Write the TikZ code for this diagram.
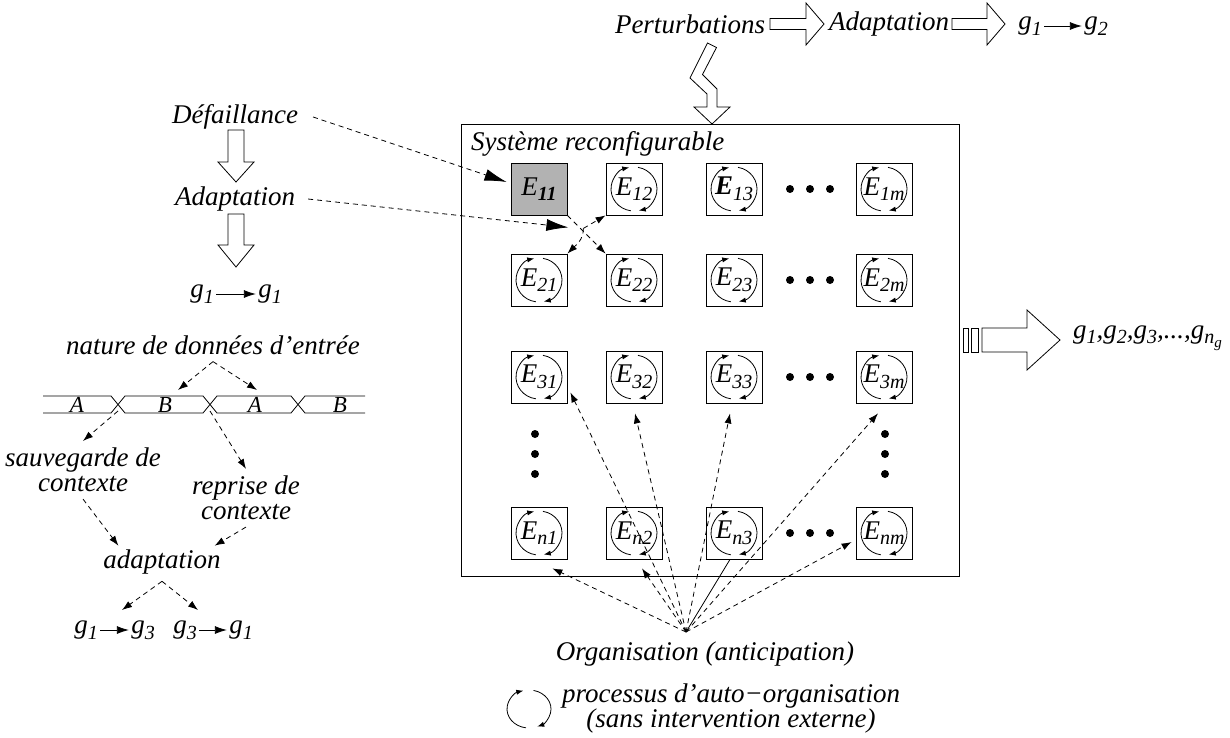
\documentclass[tikz,border=0pt]{standalone}
\usepackage{fontspec}
\setmainfont{Liberation Serif}
\usetikzlibrary{arrows.meta}

\newcommand{\sbs}[1]{\raisebox{-0.45ex}{\fontsize{10}{10}\selectfont #1}}
\newcommand{\ssbs}[1]{\raisebox{-0.35ex}{\fontsize{7.5}{7.5}\selectfont #1}}
\newcommand{\hollowarrow}[6]{% start, angle, length, head length, shaft half, head half
  \draw[fill=white,shift={(#1)},rotate=#2] (0,-#5) -- (#3-#4,-#5) -- (#3-#4,-#6) -- (#3,0) -- (#3-#4,#6) -- (#3-#4,#5) -- (0,#5) -- cycle;}

\tikzset{
  cell/.style={draw, minimum width=28pt, minimum height=26pt, inner sep=0pt},
  lnk/.style={dash pattern=on 2.5pt off 2pt, -{Latex[length=5pt,width=3.5pt]}},
  biglnk/.style={dash pattern=on 2.5pt off 2pt, -{Latex[length=11pt,width=6pt]}},
  solidlnk/.style={-{Latex[length=6pt,width=4pt]}},
  cyc/.style={-{Latex[length=3.5pt,width=2.6pt]}},
  gnode/.style={inner sep=1pt},
  buslbl/.style={font=\itshape\fontsize{11.5}{12}\selectfont},
  twoline/.style={align=center, font=\itshape\fontsize{13.5}{12.5}\selectfont}
}

\begin{document}
\begin{tikzpicture}[x=0.5pt,y=-0.5pt,font=\itshape\fontsize{13.5}{16}\selectfont]
  \fill[white] (0,0) rectangle (1230,738);
  \useasboundingbox (0,0) rectangle (1230,738);

  % perturbations -> adaptation -> g1 -> g2
  \node (pert) at (690,24) {Perturbations};
  \hollowarrow{770,24}{0}{54}{18}{5.5}{21}
  \node (adtop) at (889,24) {Adaptation};
  \hollowarrow{952,24}{0}{53}{18}{5.5}{21}
  \node[gnode] (ga) at (1030,26) {g\sbs{1}};
  \node[gnode] (gb) at (1096,26) {g\sbs{2}};
  \draw[solidlnk] (ga) -- (gb);

  % zigzag arrow into the system
  \draw[fill=white] (707.5,43) -- (716.5,47.5) -- (702.5,74.5) -- (717,89) -- (717,107) -- (730,107)
    -- (712,124) -- (694,107) -- (707,107) -- (707,94) -- (690,78) -- cycle;

  % reconfigurable system
  \draw (461,124) rectangle (959,576);
  \node[anchor=west] (systitle) at (464,144) {Système reconfigurable};

  \node[cell,fill=black!30] (e11) at (539,189) {E\sbs{\textbf{11}}};
  \node[cell] (e12) at (634,189) {E\sbs{12}};
  \node[cell] (e13) at (734,189) {\textbf{E}\sbs{13}};
  \node[cell] (e1m) at (884,189) {E\sbs{1m}};
  \foreach \r/\y in {2/280,3/377,n/533}
    \foreach \c/\x in {1/539,2/634,3/734,m/884}
      \node[cell] (e\r\c) at (\x,\y) {E\sbs{\r\c}};

  \foreach \n in {e12,e13,e1m,e21,e22,e23,e2m,e31,e32,e33,e3m,en1,en2,en3,enm}{
    \draw[cyc] ([shift={(262:11.5pt and 11pt)}]\n.center) arc[start angle=262,end angle=102,x radius=11.5pt,y radius=11pt];
    \draw[cyc] ([shift={(80:11.5pt and 11pt)}]\n.center) arc[start angle=80,end angle=-78,x radius=11.5pt,y radius=11pt];
  }

  \foreach \y in {189,280,377,533}
    \foreach \x in {790,810,830}
      \fill (\x,\y) circle[radius=2pt];
  \foreach \x in {535,885}
    \foreach \y in {434,454,474}
      \fill (\x,\y) circle[radius=2pt];

  % failure
  \node (defa) at (235,117) {Défaillance};
  \hollowarrow{236,130}{-90}{52}{20}{8}{18}
  \node (adleft) at (235,199) {Adaptation};
  \hollowarrow{236,214}{-90}{53}{22}{8}{18}
  \node[gnode] (gc) at (202,294) {g\sbs{1}};
  \node[gnode] (gd) at (270,294) {g\sbs{1}};
  \draw[solidlnk] (gc) -- (gd);

  \draw[biglnk] ([xshift=4pt]defa.east) -- ([shift={(-4,-7)}]e11.west);
  \draw[biglnk] ([xshift=3pt]adleft.east) -- ([shift={(1,12)}]e11.south east);
  \draw[lnk] (e11.south east) -- (e22.north west);
  \coordinate (split) at ([shift={(16,13)}]e11.south east);
  \draw[lnk] (split) -- (e12.south west);
  \draw[lnk] (split) to[out=-90,in=45] (e21.north east);

  % outputs
  \draw (963,328) rectangle (968,352);
  \draw (971,328) rectangle (978,352);
  \hollowarrow{982,340}{0}{78}{33}{12}{30}
  \node[anchor=west] (gall) at (1066,338) {g\sbs{1},g\sbs{2},g\sbs{3},...,g\sbs{n\ssbs{g}}};

  % organisation
  \node (orgtxt) at (705,654) {Organisation (anticipation)};
  \coordinate (org) at (686,632);
  \draw[lnk] (org) -- ([shift={(3,-11)}]e31.south east);
  \draw[lnk] (org) -- ([shift={(1,10)}]e32.south);
  \draw[lnk] (org) -- ([shift={(-4,10)}]e33.south);
  \draw[lnk] (org) -- ([shift={(-6,10)}]e3m.south);
  \draw[lnk] (org) -- ([shift={(-15,9)}]en1.south east);
  \draw[lnk] (org) -- ([shift={(8,9)}]en2.south);
  \draw (org) -- ([shift={(-4,0)}]en3.south);
  \draw[lnk] (org) -- ([shift={(-4,9)}]enm.west);

  % legend
  \coordinate (leg) at (529,709);
  \draw[cyc] ([shift={(262:11pt and 9.5pt)}]leg) arc[start angle=262,end angle=105,x radius=11pt,y radius=9.5pt];
  \draw[cyc] ([shift={(78:11pt and 9.5pt)}]leg) arc[start angle=78,end angle=-68,x radius=11pt,y radius=9.5pt];
  \node[twoline] (proc) at (731,708) {processus d'auto−organisation\\(sans intervention externe)};

  % context switch
  \node (nat) at (213,345) {nature de données d'entrée};
  \draw (43,396) -- (111,396) -- (125,413) -- (203,413) -- (217,396) -- (291,396) -- (305,413) -- (365,413);
  \draw (43,413) -- (111,413) -- (125,396) -- (203,396) -- (217,413) -- (291,413) -- (305,396) -- (365,396);
  \node[buslbl] (la) at (77,405) {A};
  \node[buslbl] (lb) at (165,405) {B};
  \node[buslbl] (lc) at (255,405) {A};
  \node[buslbl] (ld) at (340,405) {B};
  \coordinate (inB) at (178,390);
  \coordinate (inA) at (257,390);
  \coordinate (cx1) at (118,411);
  \coordinate (cx2) at (210,411);
  \draw[lnk] (nat.south) -- (inB);
  \draw[lnk] (nat.south) -- (inA);
  \node[twoline] (sauv) at (83,470) {sauvegarde de\\contexte};
  \node[twoline] (repr) at (246,498) {reprise de\\contexte};
  \draw[lnk] (cx1) -- (sauv.north);
  \draw[lnk] (cx2) -- (repr.north);
  \node (adapt) at (162,562) {adaptation};
  \draw[lnk] (sauv.south) -- ([shift={(22,3)}]adapt.north west);
  \draw[lnk] (repr.south) -- ([shift={(-13,3)}]adapt.north east);
  \coordinate (outl) at (122,610);
  \coordinate (outr) at (198,610);
  \draw[lnk] (adapt.south) -- (outl);
  \draw[lnk] (adapt.south) -- (outr);
  \node[gnode] (g1a) at (86,630) {g\sbs{1}};
  \node[gnode] (g3a) at (143,630) {g\sbs{3}};
  \node[gnode] (g3b) at (185,630) {g\sbs{3}};
  \node[gnode] (g1b) at (241,630) {g\sbs{1}};
  \draw[solidlnk] (g1a) -- (g3a);
  \draw[solidlnk] (g3b) -- (g1b);
\end{tikzpicture}
\end{document}
